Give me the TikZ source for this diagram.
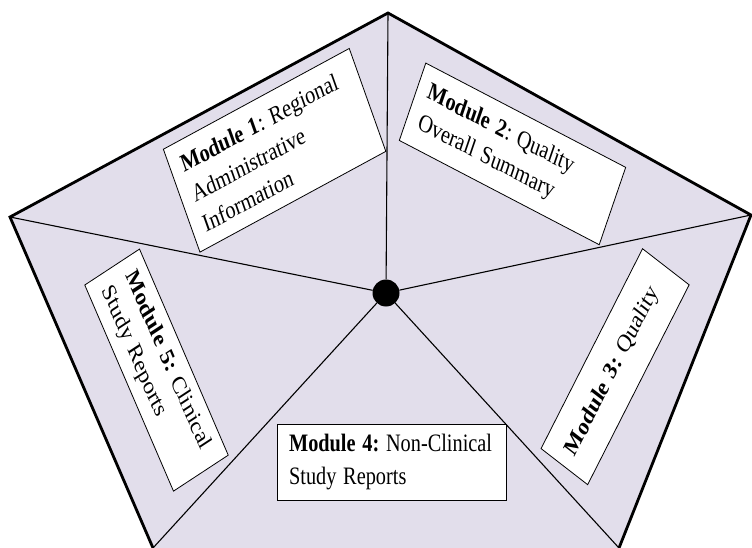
\documentclass[tikz,border=0pt]{standalone}
\usepackage{fontspec}
\setmainfont{Liberation Serif}

\definecolor{pentafill}{RGB}{226,222,235}

\tikzset{
  modbox/.style={draw=black,fill=white,line width=0.8pt,yscale=1.235,
    font=\fontsize{20.3}{26.5}\selectfont\frenchspacing,align=left,inner xsep=12pt,inner ysep=0pt},
  spoke/.style={line width=1.1pt},
  rim/.style={line width=2.8pt,line join=miter}
}

\begin{document}
\begin{tikzpicture}[x=1pt,y=-1pt]
\useasboundingbox (0,0) rectangle (752,548);
\clip (0,0) rectangle (752,548);

\coordinate (top) at (388,13);
\coordinate (right) at (751,215);
\coordinate (br) at (619,548);
\coordinate (bl) at (153,548);
\coordinate (left) at (10,217);

\fill[pentafill] (bl) -- (left) -- (top) -- (right) -- (br) -- cycle;
\node[circle,fill=black,minimum size=27pt,inner sep=0pt] (hub) at (386,293) {};
\foreach \c in {top,right,br,bl,left}
  \draw[spoke] (hub) -- (\c);
\draw[rim] (bl) -- (left) -- (top) -- (right) -- (br);

\node[modbox,rotate=23.7,text width=179pt,minimum height=91pt] (regional) at (274.6,150.3)
  {\mbox{\textbf{Module 1}: Regional}\\Administrative\\Information};
\node[modbox,rotate=-22.9,text width=193pt,minimum height=68pt] (summary) at (512.5,153.9)
  {\mbox{\textbf{Module 2}: Quality}\\Overall Summary};
\node[modbox,rotate=57.9,text width=167pt,minimum height=55pt] (quality) at (615.1,366.7)
  {\mbox{\textbf{Module 3:} Quality}};
\node[modbox,text width=205pt,minimum height=61pt] (nonclinical) at (391.6,462.3)
  {\mbox{\textbf{Module 4:} Non-Clinical}\\Study Reports};
\node[modbox,rotate=-62,text width=165pt,minimum height=62pt] (clinical) at (156.5,370.1)
  {\mbox{\textbf{Module 5:} Clinical}\\Study Reports};
\end{tikzpicture}
\end{document}
